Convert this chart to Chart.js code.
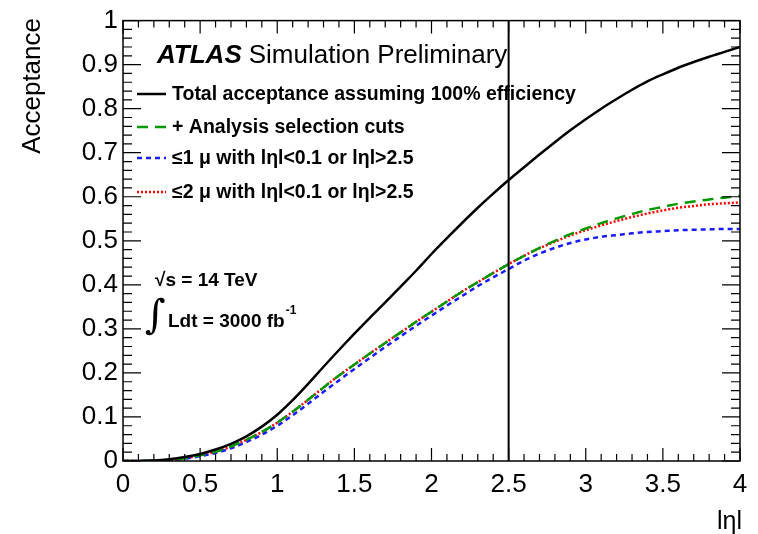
<!DOCTYPE html>
<html><head><meta charset="utf-8">
<script src="https://cdn.jsdelivr.net/npm/chart.js@4"></script>
<style>html,body{margin:0;padding:0;background:#fff}#c{display:block}</style>
</head><body>
<canvas id="c" width="758" height="534"></canvas>
<script>
const etaValues = [0,0.1,0.2,0.3,0.4,0.5,0.6,0.7,0.8,0.9,1.0,1.1,1.2,1.3,1.4,1.5,1.6,1.7,1.8,1.9,2.0,2.1,2.2,2.3,2.4,2.5,2.6,2.7,2.8,2.9,3.0,3.1,3.2,3.3,3.4,3.5,3.6,3.7,3.8,3.9,4.0];
const totalAcceptance = [0,0,0.001,0.004,0.009,0.016,0.026,0.039,0.056,0.078,0.105,0.138,0.175,0.214,0.252,0.289,0.325,0.36,0.396,0.432,0.47,0.506,0.541,0.575,0.607,0.638,0.667,0.696,0.724,0.751,0.776,0.800,0.822,0.843,0.862,0.878,0.893,0.906,0.918,0.929,0.94];
const analysisCuts = [0,0,0.001,0.002,0.006,0.013,0.021,0.033,0.048,0.066,0.087,0.112,0.139,0.167,0.194,0.219,0.244,0.268,0.292,0.316,0.339,0.362,0.385,0.406,0.427,0.447,0.466,0.484,0.500,0.515,0.528,0.540,0.551,0.561,0.570,0.577,0.584,0.589,0.594,0.598,0.602];
const leq1mu = [0,0,0.001,0.002,0.005,0.011,0.018,0.029,0.043,0.06,0.08,0.104,0.13,0.157,0.183,0.209,0.234,0.259,0.283,0.307,0.33,0.353,0.375,0.397,0.417,0.436,0.455,0.471,0.484,0.495,0.503,0.509,0.513,0.517,0.520,0.522,0.524,0.525,0.526,0.527,0.527];
const leq2mu = [0,0,0.001,0.002,0.006,0.013,0.021,0.033,0.048,0.066,0.087,0.112,0.139,0.167,0.194,0.219,0.244,0.268,0.292,0.316,0.339,0.362,0.385,0.406,0.427,0.447,0.466,0.483,0.498,0.512,0.524,0.535,0.545,0.554,0.562,0.569,0.575,0.579,0.583,0.585,0.587];
const seriesLabels = ["Total acceptance assuming 100% efficiency","+ Analysis selection cuts","\u22641 \u03BC with l\u03B7l<0.1 or l\u03B7l>2.5","\u22642 \u03BC with l\u03B7l<0.1 or l\u03B7l>2.5"];
const xTickValues = [0,0.5,1,1.5,2,2.5,3,3.5,4];
const yTickValues = [0,0.1,0.2,0.3,0.4,0.5,0.6,0.7,0.8,0.9,1];
const cutEta = 2.5;

const pts = arr => etaValues.map((x,i)=>({x, y: arr[i]}));
const FONT = '"Liberation Sans", Arial, Helvetica, sans-serif';

const overlay = {
  id: 'overlay',
  afterDatasetsDraw(chart) {
    const {ctx, chartArea: a, scales: {x, y}} = chart;
    ctx.save();
    ctx.strokeStyle = '#000'; ctx.lineWidth = 2;
    const vx = x.getPixelForValue(cutEta);
    ctx.beginPath(); ctx.moveTo(vx, a.top); ctx.lineTo(vx, a.bottom); ctx.stroke();
    ctx.lineWidth = 1.5;
    ctx.strokeRect(a.left, a.top, a.right - a.left, a.bottom - a.top);
    ctx.lineWidth = 1.2;
    ctx.beginPath();
    for (let i = 0; i <= 40; i++) {
      const v = i * 0.1; const px = x.getPixelForValue(v);
      const len = (i % 5 === 0) ? 13 : 7;
      ctx.moveTo(px, a.bottom); ctx.lineTo(px, a.bottom - len);
      ctx.moveTo(px, a.top); ctx.lineTo(px, a.top + len);
    }
    for (let i = 0; i <= 50; i++) {
      const v = i * 0.02; const py = y.getPixelForValue(v);
      const len = (i % 5 === 0) ? 18 : 9;
      ctx.moveTo(a.left, py); ctx.lineTo(a.left + len, py);
      ctx.moveTo(a.right, py); ctx.lineTo(a.right - len, py);
    }
    ctx.stroke();
    ctx.fillStyle = '#000';
    ctx.font = '25px ' + FONT;
    ctx.textAlign = 'right'; ctx.textBaseline = 'alphabetic';
    ctx.fillText('l\u03B7l', 742, 529);
    ctx.save();
    ctx.font = '26px ' + FONT;
    ctx.translate(33, 18); ctx.rotate(-Math.PI/2);
    ctx.textAlign = 'right'; ctx.textBaseline = 'middle';
    ctx.fillText('Acceptance', 0, 0);
    ctx.restore();
    ctx.textAlign = 'left'; ctx.textBaseline = 'alphabetic';
    ctx.font = 'italic bold 26px ' + FONT;
    ctx.fillText('ATLAS', 157, 63);
    const w = ctx.measureText('ATLAS').width;
    ctx.font = '26px ' + FONT;
    ctx.fillText('Simulation Preliminary', 157 + w + 7, 63);
    const rows = [94, 127, 158, 192];
    chart.data.datasets.forEach((ds, i) => {
      ctx.strokeStyle = ds.borderColor; ctx.lineWidth = ds.borderWidth;
      ctx.setLineDash(ds.borderDash || []);
      ctx.beginPath(); ctx.moveTo(137, rows[i]); ctx.lineTo(166, rows[i]); ctx.stroke();
      ctx.setLineDash([]);
      ctx.fillStyle = '#000';
      ctx.font = 'bold 19.5px ' + FONT; ctx.textBaseline = 'middle';
      ctx.fillText(ds.label, 172, rows[i] + 1);
    });
    ctx.font = 'bold 19px ' + FONT; ctx.textBaseline = 'middle';
    ctx.fillText('\u221As = 14 TeV', 155, 281);
    ctx.font = '40px "DejaVu Serif", serif';
    ctx.fillText('\u222B', 145, 318);
    ctx.font = 'bold 19px ' + FONT;
    ctx.fillText('Ldt = 3000 fb', 168, 322);
    const lw = ctx.measureText('Ldt = 3000 fb').width;
    ctx.font = 'bold 12px ' + FONT;
    ctx.fillText('-1', 168 + lw + 1, 311);
    ctx.restore();
  }
};

new Chart(document.getElementById('c'), {
  type: 'line',
  data: {
    datasets: [
      {label: seriesLabels[0], data: pts(totalAcceptance), borderColor: '#000000', borderWidth: 2.5, borderDash: []},
      {label: seriesLabels[1], data: pts(analysisCuts), borderColor: '#009900', borderWidth: 2.5, borderDash: [11, 7]},
      {label: seriesLabels[2], data: pts(leq1mu), borderColor: '#1a1aff', borderWidth: 2.5, borderDash: [5, 4]},
      {label: seriesLabels[3], data: pts(leq2mu), borderColor: '#ff0000', borderWidth: 2.5, borderDash: [2, 2]}
    ]
  },
  options: {
    responsive: false, animation: false,
    layout: {padding: {left: 0, top: 17, right: 18, bottom: 0}},
    elements: {point: {radius: 0}, line: {cubicInterpolationMode: 'monotone', fill: false}},
    plugins: {legend: {display: false}, tooltip: {enabled: false}},
    scales: {
      x: {
        type: 'linear', min: 0, max: 4,
        afterFit: s => { s.height = 73; },
        afterBuildTicks: s => { s.ticks = xTickValues.map(v => ({value: v})); },
        grid: {display: false, drawTicks: false}, border: {display: false},
        ticks: {color: '#000', font: {size: 26, family: FONT}, padding: 8, maxRotation: 0,
          callback: v => String(Math.round(v * 10) / 10)}
      },
      y: {
        type: 'linear', min: 0, max: 1,
        afterFit: s => { s.width = 123; },
        afterBuildTicks: s => { s.ticks = yTickValues.map(v => ({value: v})); },
        grid: {display: false, drawTicks: false}, border: {display: false},
        ticks: {color: '#000', font: {size: 26, family: FONT}, padding: 5,
          callback: v => String(Math.round(v * 10) / 10)}
      }
    }
  },
  plugins: [overlay]
});
</script>
</body></html>
